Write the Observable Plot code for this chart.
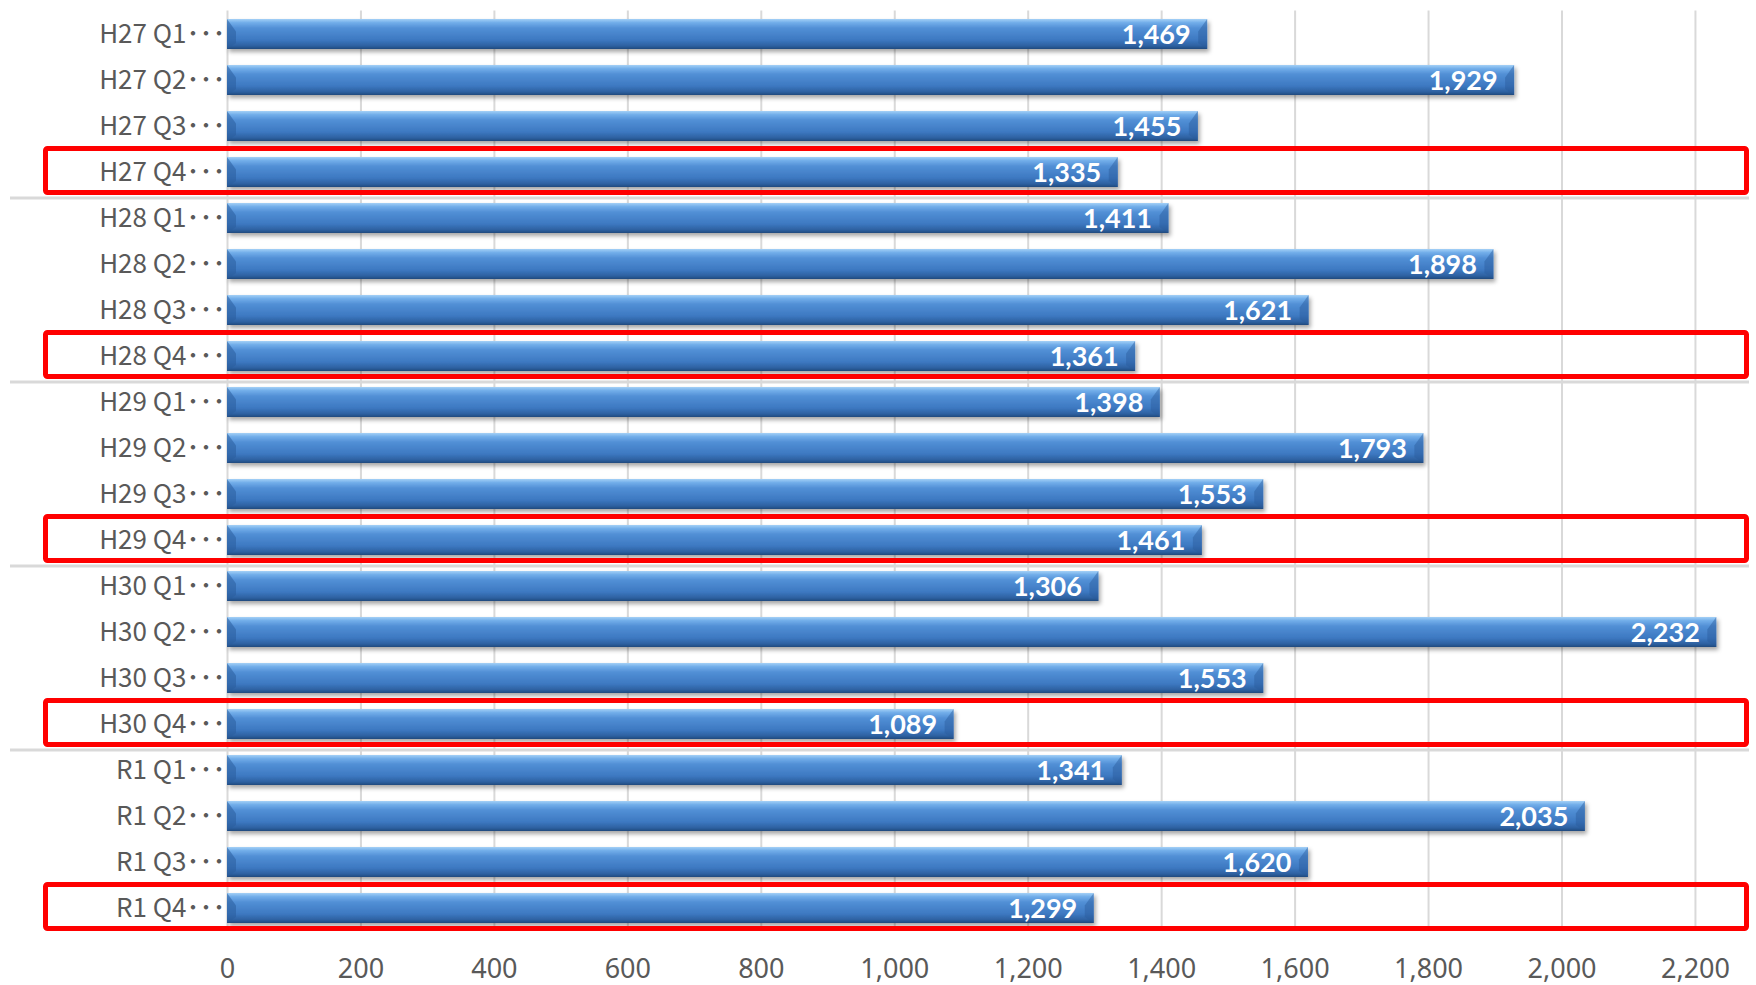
<!DOCTYPE html>
<html><head><meta charset="utf-8">
<script src="https://cdn.jsdelivr.net/npm/d3@7"></script>
<script src="https://cdn.jsdelivr.net/npm/@observablehq/plot@0.6"></script>
<style>
html,body{margin:0;padding:0;background:#fff;}
#chart svg{display:block;}
</style>
</head><body>
<div id="chart"></div>
<script>
const categories = ["H27 Q1","H27 Q2","H27 Q3","H27 Q4","H28 Q1","H28 Q2","H28 Q3","H28 Q4","H29 Q1","H29 Q2","H29 Q3","H29 Q4","H30 Q1","H30 Q2","H30 Q3","H30 Q4","R1 Q1","R1 Q2","R1 Q3","R1 Q4"];
const values = [1469,1929,1455,1335,1411,1898,1621,1361,1398,1793,1553,1461,1306,2232,1553,1089,1341,2035,1620,1299];
const xTicks = [0,200,400,600,800,1000,1200,1400,1600,1800,2000,2200];
const highlighted = ["H27 Q4","H28 Q4","H29 Q4","H30 Q4","R1 Q4"];
const separatorsAfter = ["H27 Q4","H28 Q4","H29 Q4","H30 Q4"];

const data = categories.map((c, i) => ({cat: c, value: values[i]}));

const W = 1756, H = 985;
const mTop = 10.6, mBottom = 54.4, mLeft = 227, mRight = 7;

function decorUnder(index, scales, values, dims) {
  const g = d3.create("svg:g");
  const y = scales.y;
  const step = y(categories[1]) - y(categories[0]);
  for (const c of separatorsAfter) {
    const yy = y(c) + step + 3;
    g.append("line").attr("x1", 10).attr("x2", dims.width - dims.marginRight)
      .attr("y1", yy).attr("y2", yy).attr("stroke", "#d9d9d9").attr("stroke-width", 3);
  }
  return g.node();
}
function decorOver(index, scales, values, dims) {
  const g = d3.create("svg:g");
  const y = scales.y;
  const step = y(categories[1]) - y(categories[0]);
  for (const c of highlighted) {
    const y0 = y(c);
    g.append("rect").attr("x", 45.5).attr("y", y0 - 0.5)
      .attr("width", dims.width - dims.marginRight - 45.5 - 2.5).attr("height", step - 2)
      .attr("rx", 2).attr("fill", "none").attr("stroke", "#ff0000").attr("stroke-width", 5);
  }
  return g.node();
}

const chart = Plot.plot({
  width: W, height: H,
  marginTop: mTop, marginBottom: mBottom, marginLeft: mLeft, marginRight: mRight,
  style: {fontFamily: "'Noto Sans', sans-serif", background: "#fff"},
  x: {domain: [0, 2281], range: [mLeft, W - mRight], label: null},
  y: {domain: categories, padding: 0, label: null},
  marks: [
    decorUnder,
    Plot.gridX(xTicks, {stroke: "#d9d9d9", strokeOpacity: 1, strokeWidth: 2}),
    Plot.barX(data, {x: "value", y: "cat", fill: "#4a86c8", insetTop: 8, insetBottom: 8}),
    Plot.text(data, {x: "value", y: "cat", text: d => d3.format(",")(d.value), textAnchor: "end", dx: -17, dy: 1,
      fill: "#ffffff", fontWeight: "bold", fontSize: 27, fontFamily: "Lato, 'Noto Sans', sans-serif"}),
    Plot.axisX({ticks: xTicks, tickSize: 0, tickPadding: 28, tickFormat: d3.format(","), fontSize: 27, fill: "#595959", fontFamily: "'Noto Sans', sans-serif", label: null}),
    Plot.axisY({tickSize: 0, tickPadding: 2, tickFormat: d => d + "･･･", fontSize: 26, fill: "#595959", fontFamily: "'Noto Sans CJK JP', sans-serif", label: null}),
    decorOver
  ]
});

const svg = d3.select(chart.tagName.toLowerCase() === "svg" ? chart : chart.querySelector("svg"));
const defs = svg.insert("defs", ":first-child");
const grad = defs.append("linearGradient").attr("id", "barGrad").attr("x1", 0).attr("y1", 0).attr("x2", 0).attr("y2", 1);
[[0, "#a4d0f6"], [0.12, "#72aeea"], [0.3, "#5290d6"], [0.7, "#3d78c1"], [0.9, "#2d60a0"], [1, "#22497d"]]
  .forEach(([o, c]) => grad.append("stop").attr("offset", o).attr("stop-color", c));
const f = defs.append("filter").attr("id", "barShadow").attr("x", "-5%").attr("y", "-30%").attr("width", "110%").attr("height", "170%");
f.append("feDropShadow").attr("dx", 2).attr("dy", 3).attr("stdDeviation", 2).attr("flood-color", "#000").attr("flood-opacity", 0.35);

svg.selectAll("g[aria-label='bar'] rect").each(function() {
  const r = d3.select(this);
  r.attr("fill", "url(#barGrad)").attr("filter", "url(#barShadow)");
  const x = +r.attr("x"), y = +r.attr("y"), w = +r.attr("width"), h = +r.attr("height");
  const p = d3.select(this.parentNode);
  p.append("polygon").attr("points", `${x},${y} ${x + 9},${y + h * 0.42} ${x + 9},${y + h * 0.8} ${x},${y + h}`)
    .attr("fill", "#2a5c9c").attr("opacity", 0.55);
  p.append("polygon").attr("points", `${x + w},${y} ${x + w - 9},${y + h * 0.42} ${x + w - 9},${y + h * 0.8} ${x + w},${y + h}`)
    .attr("fill", "#2a5c9c").attr("opacity", 0.45);
});
const textG = svg.select("g[aria-label='text']").node();
if (textG) textG.parentNode.appendChild(textG);
document.getElementById("chart").appendChild(chart);
</script>
</body></html>
